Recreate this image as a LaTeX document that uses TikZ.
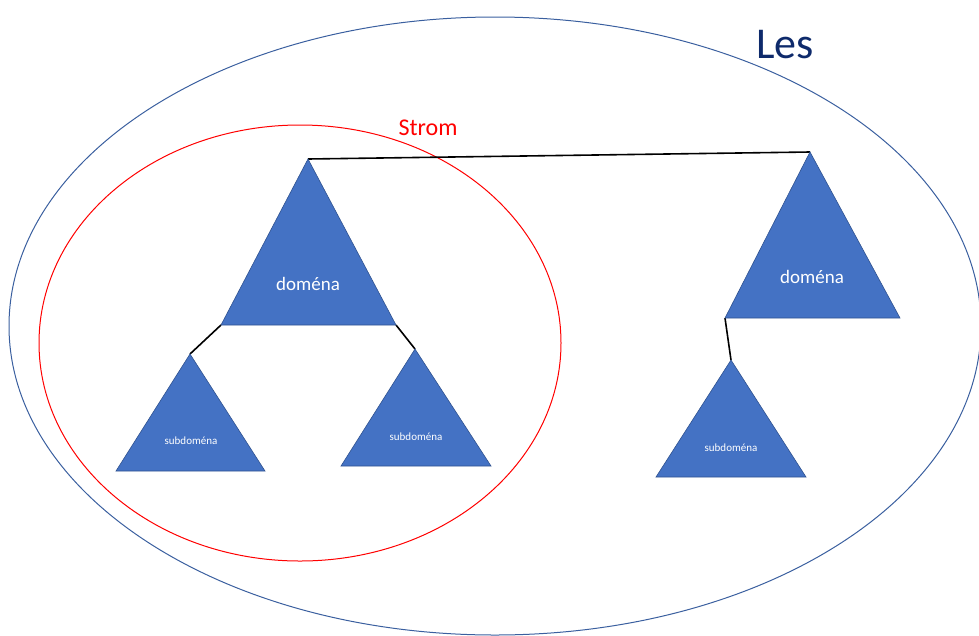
\documentclass[tikz,border=0pt]{standalone}
\usepackage{fontspec}
\setmainfont{Carlito}
\definecolor{tri}{HTML}{4472C4}
\definecolor{triedge}{HTML}{2F528F}
\definecolor{lesline}{HTML}{3A5F9F}
\definecolor{lestext}{HTML}{0E2A6B}
\begin{document}
\begin{tikzpicture}[x=1pt,y=-1pt,
  tribox/.style={fill=tri,draw=triedge,line width=0.6pt},
  link/.style={draw=black,line width=1.6pt},
  big/.style={font=\fontsize{19}{21}\selectfont,text=white},
  small/.style={font=\fontsize{11}{13}\selectfont,text=white}]
\useasboundingbox (0,0) rectangle (979,635);
% ellipses
\draw[lesline,line width=1pt] (495,326) ellipse [x radius=486, y radius=309];
\draw[red,line width=1pt] (300,343) ellipse [x radius=261, y radius=218];
\node[text=lestext,font=\fontsize{44}{48}\selectfont] (les) at (785,45) {Les};
\node[text=red,font=\fontsize{24}{26}\selectfont] (strom) at (428,128) {Strom};
% triangle coordinates
\coordinate (d1t) at (308,159); \coordinate (d1l) at (221,325); \coordinate (d1r) at (396,325);
\coordinate (d2t) at (810,152); \coordinate (d2l) at (725,318); \coordinate (d2r) at (900,318);
\coordinate (s1t) at (190,354); \coordinate (s1l) at (116,471); \coordinate (s1r) at (265,471);
\coordinate (s2t) at (415,349); \coordinate (s2l) at (341,466); \coordinate (s2r) at (491,466);
\coordinate (s3t) at (731,360); \coordinate (s3l) at (656,477); \coordinate (s3r) at (806,477);
% connectors
\draw[link] (d1t) -- (d2t);
\draw[link] (d1l) -- (s1t);
\draw[link] (d1r) -- (s2t);
\draw[link] (d2l) -- (s3t);
% triangles
\path[tribox] (d1t) -- (d1r) -- (d1l) -- cycle;
\path[tribox] (d2t) -- (d2r) -- (d2l) -- cycle;
\path[tribox] (s1t) -- (s1r) -- (s1l) -- cycle;
\path[tribox] (s2t) -- (s2r) -- (s2l) -- cycle;
\path[tribox] (s3t) -- (s3r) -- (s3l) -- cycle;
% labels
\node[big] (d1) at (308,284) {doména};
\node[big] (d2) at (812,277) {doména};
\node[small] (s1) at (191,441) {subdoména};
\node[small] (s2) at (416,437) {subdoména};
\node[small] (s3) at (731,448) {subdoména};
\end{tikzpicture}
\end{document}
